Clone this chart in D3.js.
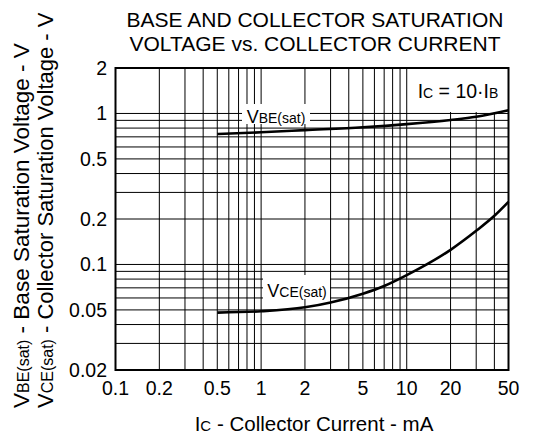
<!DOCTYPE html>
<html><head><meta charset="utf-8">
<script src="https://cdn.jsdelivr.net/npm/d3@7"></script>
<style>body{margin:0;background:#fff}svg{display:block}text{font-family:"Liberation Sans",Arial,sans-serif;fill:#000}</style>
</head><body>
<script>
const icVbe = [0.5, 1, 2, 5, 10, 20, 30, 50];
const vbe   = [0.73, 0.75, 0.775, 0.81, 0.85, 0.905, 0.95, 1.05];
const icVce = [0.5, 1, 2, 3, 5, 7, 10, 20, 30, 40, 50];
const vce   = [0.048, 0.049, 0.052, 0.056, 0.064, 0.072, 0.085, 0.125, 0.167, 0.21, 0.26];
const xTicks = [0.1, 0.2, 0.5, 1, 2, 5, 10, 20, 50];
const yTicks = [0.02, 0.05, 0.1, 0.2, 0.5, 1, 2];
const xGrid = [0.2,0.3,0.4,0.5,0.6,0.7,0.8,0.9,1,2,3,4,5,6,7,8,9,10,20,30,40];
const yGrid = [0.03,0.04,0.05,0.06,0.07,0.08,0.09,0.1,0.2,0.3,0.4,0.5,0.6,0.7,0.8,0.9,1];

const W = 537, H = 439;
const svg = d3.select("body").append("svg").attr("width", W).attr("height", H);
const x = d3.scaleLog().domain([0.1, 50]).range([115.5, 508.5]);
const y = d3.scaleLog().domain([0.02, 2]).range([370, 68]);

// grid
const g = svg.append("g");
g.selectAll(".gx").data(xGrid).join("line")
  .attr("x1", d => x(d)).attr("x2", d => x(d)).attr("y1", y(2)).attr("y2", y(0.02))
  .attr("stroke", "#000").attr("stroke-width", 1);
g.selectAll(".gy").data(yGrid).join("line")
  .attr("y1", d => y(d)).attr("y2", d => y(d)).attr("x1", x(0.1)).attr("x2", x(50))
  .attr("stroke", "#000").attr("stroke-width", 1);

// label backgrounds
svg.append("rect").attr("x", 242).attr("y", 104).attr("width", 68).attr("height", 20).attr("fill", "#fff");
svg.append("rect").attr("x", 263).attr("y", 275).attr("width", 67).attr("height", 24).attr("fill", "#fff");
svg.append("rect").attr("x", 410).attr("y", y(2)).attr("width", x(50) - 410).attr("height", 44).attr("fill", "#fff");

// frame
svg.append("rect").attr("x", x(0.1)).attr("y", y(2))
  .attr("width", x(50) - x(0.1)).attr("height", y(0.02) - y(2))
  .attr("fill", "none").attr("stroke", "#000").attr("stroke-width", 2);

// curves
const line = d3.line().x(d => x(d[0])).y(d => y(d[1])).curve(d3.curveMonotoneX);
svg.append("path").datum(d3.zip(icVbe, vbe)).attr("d", line)
  .attr("fill", "none").attr("stroke", "#000").attr("stroke-width", 2.6);
svg.append("path").datum(d3.zip(icVce, vce)).attr("d", line)
  .attr("fill", "none").attr("stroke", "#000").attr("stroke-width", 2.6);

// tick labels
svg.selectAll(".xt").data(xTicks).join("text")
  .attr("x", d => x(d)).attr("y", 395).attr("text-anchor", "middle")
  .attr("font-size", 19.5).text(d => d);
svg.selectAll(".yt").data(yTicks).join("text")
  .attr("x", 107).attr("y", d => y(d)).attr("dy", "0.36em").attr("text-anchor", "end")
  .attr("font-size", 19.5).text(d => d);

// title
svg.append("text").attr("x", 315).attr("y", 27).attr("text-anchor", "middle").attr("font-size", 21)
  .text("BASE AND COLLECTOR SATURATION");
svg.append("text").attr("x", 315).attr("y", 51).attr("text-anchor", "middle").attr("font-size", 21)
  .text("VOLTAGE vs. COLLECTOR CURRENT");

function sub(sel, parts) {
  parts.forEach(p => sel.append("tspan").attr("font-size", p[1]).text(p[0]));
  return sel;
}
// x axis title
sub(svg.append("text").attr("x", 314).attr("y", 431).attr("text-anchor", "middle").attr("font-size", 20.5),
  [["I", 20.5], ["C", 15], [" - Collector Current - mA", 20.5]]);
// y axis titles
sub(svg.append("text").attr("transform", "translate(29,408) rotate(-90)").attr("font-size", 22.5),
  [["V", 22.5], ["BE(sat)", 16], [" - Base Saturation Voltage - V", 22.5]]);
sub(svg.append("text").attr("transform", "translate(53,408) rotate(-90)").attr("font-size", 22),
  [["V", 22], ["CE(sat)", 16], [" - Collector Saturation Voltage - V", 22]]);

// curve labels
sub(svg.append("text").attr("x", 276).attr("y", 123).attr("text-anchor", "middle").attr("font-size", 18),
  [["V", 18], ["BE(sat)", 14]]);
sub(svg.append("text").attr("x", 297).attr("y", 297).attr("text-anchor", "middle").attr("font-size", 18),
  [["V", 18], ["CE(sat)", 14]]);
sub(svg.append("text").attr("x", 458).attr("y", 98).attr("text-anchor", "middle").attr("font-size", 19.5),
  [["I", 19.5], ["C", 14], [" = 10·I", 19.5], ["B", 14]]);
</script>
</body></html>
